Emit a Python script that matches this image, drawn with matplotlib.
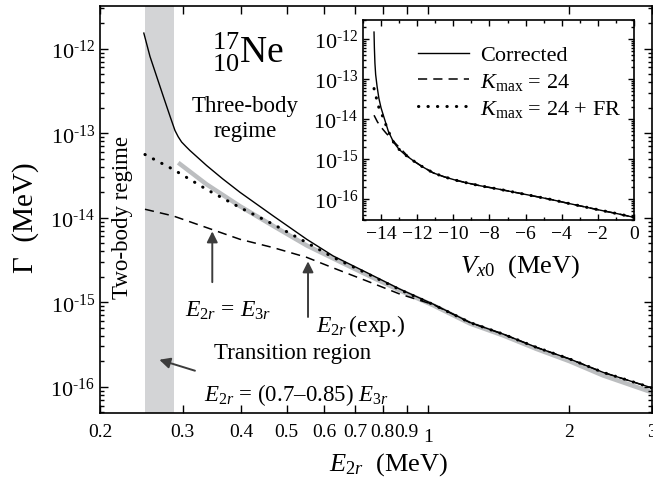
import matplotlib
matplotlib.use('Agg')
import matplotlib.pyplot as plt
from matplotlib.ticker import FixedLocator, FixedFormatter, LogLocator, NullFormatter, MultipleLocator
from matplotlib.transforms import ScaledTranslation

plt.rcParams['font.family'] = ['Liberation Serif', 'DejaVu Serif']
plt.rcParams['mathtext.fontset'] = 'custom'
plt.rcParams['mathtext.rm'] = 'Liberation Serif'
plt.rcParams['mathtext.it'] = 'Liberation Serif:italic'
plt.rcParams['mathtext.bf'] = 'Liberation Serif:bold'

# ---- main panel data (E_2r in MeV, width in MeV) ----
e_corr = [0.248, 0.2556, 0.2641, 0.2728, 0.282, 0.2889, 0.2935, 0.2985, 0.305, 0.311, 0.3376, 0.365,
          0.3975, 0.468, 0.5515, 0.628, 0.740, 0.871, 1.026, 1.229, 1.446, 1.704, 2.006, 2.362, 3.0]
g_corr = [1.53e-12, 8.1e-13, 4.7e-13, 2.74e-13, 1.59e-13, 1.08e-13, 9.1e-14, 7.87e-14, 6.95e-14, 6.24e-14, 4.14e-14, 2.89e-14,
          2.0e-14, 1.05e-14, 5.56e-15, 3.53e-15, 2.25e-15, 1.43e-15, 9.5e-16, 5.77e-16, 4.2e-16, 2.92e-16, 2.13e-16, 1.48e-16, 9.7e-17]

e_k24 = [0.2494, 0.2865, 0.3376, 0.3975, 0.468, 0.5515, 0.628, 0.740, 0.871,
         1.026, 1.229, 1.446, 1.704, 2.006, 2.362, 3.0]
g_k24 = [1.26e-14, 1.05e-14, 7.64e-15, 5.56e-15, 4.43e-15, 3.4e-15, 2.55e-15, 1.79e-15, 1.25e-15,
         9.4e-16, 5.75e-16, 4.2e-16, 2.92e-16, 2.13e-16, 1.48e-16, 9.7e-17]

e_fr = [0.2494, 0.2865, 0.3376, 0.3975, 0.468, 0.5515, 0.628, 0.740, 0.871,
        1.026, 1.229, 1.446, 1.704, 2.006, 2.362, 3.0]
g_fr = [5.6e-14, 3.73e-14, 2.16e-14, 1.32e-14, 8.36e-15, 5.08e-15, 3.4e-15, 2.2e-15, 1.41e-15,
        9.4e-16, 5.75e-16, 4.2e-16, 2.92e-16, 2.13e-16, 1.48e-16, 9.7e-17]

e_exp = [0.2936, 0.3376, 0.3975, 0.468, 0.5515, 0.628, 0.740, 0.871, 1.026,
         1.229, 1.446, 1.704, 2.006, 2.362, 3.0]
g_exp = [4.48e-14, 2.48e-14, 1.37e-14, 8.0e-15, 4.7e-15, 3.3e-15, 2.12e-15, 1.38e-15, 9.2e-16,
         5.6e-16, 4.05e-16, 2.8e-16, 2.0e-16, 1.36e-16, 8.6e-17]

band = (0.249, 0.288)
e3r = 0.347
e2r_exp = 0.555

xticks = [0.2, 0.3, 0.4, 0.5, 0.6, 0.7, 0.8, 0.9, 1, 2, 3]
xticklabels = ['0.2', '0.3', '0.4', '0.5', '0.6', '0.7', '0.8', '0.9', '1', '2', '3']
yticks = [1e-16, 1e-15, 1e-14, 1e-13, 1e-12]
yticklabels = ['10$^{\\text{-16}}$', '10$^{\\text{-15}}$', '10$^{\\text{-14}}$',
               '10$^{\\text{-13}}$', '10$^{\\text{-12}}$']

# ---- inset data (V_x0 in MeV) ----
v_corr = [-14.39, -14.37, -14.34, -14.30, -14.22, -14.12, -14.0, -13.85, -13.6, -13.3, -13.0,
          -12.68, -12.2, -11.7, -11.1, -10.5, -9.9, -9.26, -8.5, -7.42, -6.5, -5.58, -4.6,
          -3.73, -2.8, -1.88, -0.9, 0.0]
gv_corr = [1.5e-12, 6e-13, 2.5e-13, 1.3e-13, 6.5e-14, 3.3e-14, 1.9e-14, 1.15e-14, 5.0e-15, 2.6e-15, 1.75e-15,
           1.3e-15, 9e-16, 6.4e-16, 4.5e-16, 3.6e-16, 3.0e-16, 2.55e-16, 2.15e-16, 1.75e-16, 1.45e-16, 1.2e-16, 9.8e-17,
           8.0e-17, 6.5e-17, 5.3e-17, 4.3e-17, 3.5e-17]

v_k24 = [-14.39, -14.2, -14.0, -13.73, -13.4, -13.14, -12.8, -12.5, -12.2, -11.7, -11.1, -10.5,
         -9.9, -9.26, -8.5, -7.42, -6.5, -5.58, -4.6, -3.73, -2.8, -1.88, -0.9, 0.0]
gv_k24 = [1.25e-14, 8.5e-15, 6.3e-15, 4.5e-15, 3.1e-15, 2.3e-15, 1.6e-15, 1.15e-15, 9e-16, 6.4e-16, 4.5e-16, 3.6e-16,
          3.0e-16, 2.55e-16, 2.15e-16, 1.75e-16, 1.45e-16, 1.2e-16, 9.8e-17, 8.0e-17, 6.5e-17, 5.3e-17, 4.3e-17, 3.5e-17]

v_fr = [-14.39, -14.3, -14.2, -14.1, -13.95, -13.6, -13.3, -13.0, -12.68, -12.2, -11.7, -11.1, -10.5,
        -9.9, -9.26, -8.5, -7.42, -6.5, -5.58, -4.6, -3.73, -2.8, -1.88, -0.9, 0.0]
gv_fr = [5.8e-14, 4.0e-14, 2.6e-14, 1.8e-14, 1.3e-14, 5.0e-15, 2.6e-15, 1.75e-15, 1.3e-15, 9e-16, 6.4e-16, 4.5e-16, 3.6e-16,
         3.0e-16, 2.55e-16, 2.15e-16, 1.75e-16, 1.45e-16, 1.2e-16, 9.8e-17, 8.0e-17, 6.5e-17, 5.3e-17, 4.3e-17, 3.5e-17]

inset_yticks = [1e-16, 1e-15, 1e-14, 1e-13, 1e-12]

fig = plt.figure(figsize=(6.53, 4.89), dpi=100)
ax = fig.add_axes([0.1531, 0.1534, 0.8453, 0.8323])

ax.axvspan(band[0], band[1], color='#d3d4d6', lw=0, zorder=0)
ax.plot(e_exp, g_exp, color='#bcbec0', lw=3.2, solid_capstyle='butt', zorder=1)
ax.plot(e_corr, g_corr, color='black', lw=1.0, zorder=3)
ax.plot(e_k24, g_k24, color='black', lw=1.1, dashes=(6, 4), zorder=3)
ax.plot(e_fr, g_fr, color='black', lw=2.2, dashes=(0.1, 3.0), dash_capstyle='round', zorder=3)

ax.set_xscale('log')
ax.set_yscale('log')
ax.set_xlim(0.2, 3)
ax.set_ylim(4.9e-17, 3.2e-12)

ax.xaxis.set_major_locator(FixedLocator(xticks))
ax.xaxis.set_major_formatter(FixedFormatter(xticklabels))
ax.xaxis.set_minor_locator(FixedLocator([]))
ax.yaxis.set_major_locator(FixedLocator(yticks))
ax.yaxis.set_major_formatter(FixedFormatter(yticklabels))
ax.yaxis.set_minor_locator(LogLocator(base=10, subs=range(2, 10), numticks=20))
ax.yaxis.set_minor_formatter(NullFormatter())
ax.tick_params(which='both', direction='in', top=True, right=True, width=1.0)
ax.tick_params(axis='x', labelsize=14, pad=7)
ax.tick_params(axis='y', labelsize=16)
ax.tick_params(which='major', length=6)
ax.tick_params(which='minor', length=3)
for s in ax.spines.values():
    s.set_linewidth(1.2)

ax.set_xlabel('$E_{2r}$  (MeV)', fontsize=19, va='center')
ax.xaxis.set_label_coords(0.5236, -0.125)
ax.set_ylabel('Γ  (MeV)', fontsize=21, va='center')
ax.yaxis.set_label_coords(-0.134, 0.4816)

ax.text(0.268, 0.89, '${}^{17}_{10}\\mathrm{Ne}$', transform=ax.transAxes, fontsize=27,
        ha='center', va='center')
ax.text(0.263, 0.725, 'Three-body\nregime', transform=ax.transAxes, fontsize=16.5,
        ha='center', va='center', linespacing=1.25)
ax.text(0.0417, 0.4816, 'Two-body regime', transform=ax.transAxes, fontsize=16.5,
        ha='center', va='center', rotation=90)
ax.text(0.232, 0.254, '$E_{2r}$ = $E_{3r}$', transform=ax.transAxes, fontsize=17,
        ha='center', va='center')
ax.text(0.473, 0.216, '$E_{2r}\\,$(exp.)', transform=ax.transAxes, fontsize=17,
        ha='center', va='center')
ax.text(0.3496, 0.1474, 'Transition region', transform=ax.transAxes, fontsize=16.5,
        ha='center', va='center')
ax.text(0.355, 0.0467, '$E_{2r}$ = (0.7–0.85) $E_{3r}$', transform=ax.transAxes, fontsize=16.5,
        ha='center', va='center')

arrow = dict(arrowstyle='-|>', color='#3c3c3c', lw=1.4, mutation_scale=16, shrinkA=0, shrinkB=0)
ax.annotate('', xy=(e3r, 6.9e-15), xytext=(e3r, 1.73e-15), arrowprops=arrow)
ax.annotate('', xy=(e2r_exp, 3.05e-15), xytext=(e2r_exp, 6.7e-16), arrowprops=arrow)
ax.annotate('', xy=(0.2676, 2.09e-16), xytext=(0.3187, 1.55e-16), arrowprops=arrow)

# ---- inset ----
ins = fig.add_axes([0.5559, 0.548, 0.415, 0.409])
ins.plot(v_corr, gv_corr, color='black', lw=1.0, label='Corrected')
ins.plot(v_k24, gv_k24, color='black', lw=1.1, dashes=(6, 4), label='$K_{\\rm max}$ = 24')
ins.plot(v_fr, gv_fr, color='black', lw=2.2, dashes=(0.1, 3.0), dash_capstyle='round',
         label='$K_{\\rm max}$ = 24 + FR')
ins.set_yscale('log')
ins.set_xlim(-15, 0)
ins.set_ylim(3e-17, 3e-12)
ins.xaxis.set_major_locator(MultipleLocator(2))
ins.xaxis.set_minor_locator(MultipleLocator(1))
ins.yaxis.set_major_locator(FixedLocator(inset_yticks))
ins.yaxis.set_major_formatter(FixedFormatter(yticklabels))
ins.yaxis.set_minor_locator(LogLocator(base=10, subs=range(2, 10), numticks=20))
ins.yaxis.set_minor_formatter(NullFormatter())
ins.tick_params(which='both', direction='in', top=True, right=True, width=1.0)
ins.tick_params(axis='x', labelsize=14)
ins.tick_params(axis='y', labelsize=16)
ins.tick_params(which='major', length=4)
ins.tick_params(which='minor', length=2)
for s in ins.spines.values():
    s.set_linewidth(1.2)
ins.set_xlabel('$V_{x0}$  (MeV)', fontsize=19, va='center')
ins.xaxis.set_label_coords(0.579, -0.23)
ins.legend(loc='upper left', bbox_to_anchor=(0.17, 0.92), frameon=False, fontsize=16,
           handlelength=2.3, handletextpad=0.5, labelspacing=0.25, borderaxespad=0)

# the "1" label sits a little lower in the original
fig.canvas.draw()
for lab in ax.get_xticklabels():
    if lab.get_text() == '1':
        lab.set_transform(lab.get_transform() + ScaledTranslation(0, -4 / 72, fig.dpi_scale_trans))

fig.savefig('out.png', dpi=100)
